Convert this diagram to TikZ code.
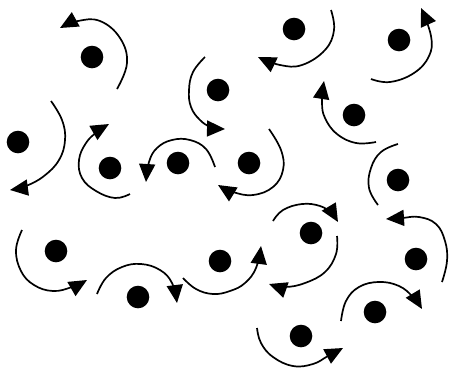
\documentclass[tikz,border=0pt]{standalone}
\usetikzlibrary{arrows.meta}
\begin{document}
\begin{tikzpicture}[x=1pt,y=-1pt,
  dotmark/.style={fill=black,draw=none},
  swirl/.style={line width=1.7pt,-{Triangle[length=18pt,width=16pt]}},
  swirlplain/.style={line width=1.7pt}]
\useasboundingbox (0,0) rectangle (453,368);
% dots
\foreach \n/\x/\y in {A/92/57,B/18/142,C/110/168,D/218/90,E/178/163,G/294/29,H/249/163,I/399/40,J/354/115,K/398/180,L/56/251,M/138/297,N/220/261,O/311/233,P/301/336,Q/416/259,R/375/312}
  \fill[dotmark] (\x,\y) circle (11.3) coordinate (\n);
% arcs
\draw[swirl] plot[smooth,tension=0.7] coordinates {(117,89) (127,63) (120,38) (100,21) (78,21) (60,28)};
\draw[swirl] plot[smooth,tension=0.7] coordinates {(51,101) (62,120) (65,140) (59,160) (44,176) (26,186) (10,190)};
\draw[swirl] plot[smooth,tension=0.7] coordinates {(130,194) (115,198) (96,191) (82,178) (79,160) (86,143) (97,132) (109,124)};
\draw[swirl] plot[smooth,tension=0.7] coordinates {(205,57) (193,72) (189,90) (191,107) (200,120) (211,127) (225,129)};
\draw[swirl] plot[smooth,tension=0.7] coordinates {(215,167) (206,149) (190,140) (172,140) (157,148) (149,162) (146,182)};
\draw[swirl] plot[smooth,tension=0.7] coordinates {(331,10) (334,30) (325,50) (302,65) (280,65) (258,57)};
\draw[swirl] plot[smooth,tension=0.7] coordinates {(269,129) (281,150) (283,170) (273,187) (253,195) (233,192) (218,185)};
\draw[swirl] plot[smooth,tension=0.7] coordinates {(371,79) (390,82) (414,73) (429,56) (431,36) (421,8)};
\draw[swirl] plot[smooth,tension=0.7] coordinates {(376,142) (356,143) (337,134) (325,118) (322,102) (324,81)};
\draw[swirlplain] plot[smooth,tension=0.7] coordinates {(398,144) (381,152) (371,168) (369,188) (378,205)};
\draw[swirl] plot[smooth,tension=0.7] coordinates {(22,230) (16,250) (21,271) (34,285) (53,291) (72,287) (87,280)};
\draw[swirl] plot[smooth,tension=0.7] coordinates {(97,294) (106,278) (122,267) (141,264) (160,270) (172,283) (177,303)};
\draw[swirl] plot[smooth,tension=0.7] coordinates {(183,278) (196,289) (213,294) (230,291) (245,283) (256,268) (261,246)};
\draw[swirl] plot[smooth,tension=0.7] coordinates {(273,221) (283,210) (302,204) (320,206) (331,213) (338,222)};
\draw[swirl] plot[smooth,tension=0.7] coordinates {(337,236) (336,254) (325,272) (305,283) (285,287) (269,284)};
\draw[swirl] plot[smooth,tension=0.7] coordinates {(257,328) (261,343) (273,357) (293,366) (313,364) (328,356) (343,348)};
\draw[swirl] plot[smooth,tension=0.7] coordinates {(442,282) (447,261) (445,241) (436,224) (419,217) (402,218) (386,219)};
\draw[swirl] plot[smooth,tension=0.7] coordinates {(341,321) (346,301) (359,287) (379,282) (399,286) (413,297) (422,309)};
\end{tikzpicture}
\end{document}
